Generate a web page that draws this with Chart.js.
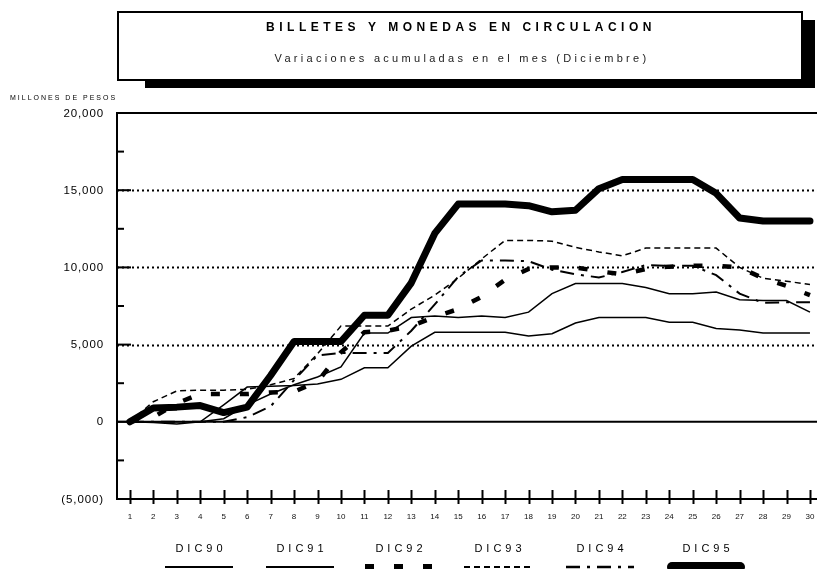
<!DOCTYPE html>
<html>
<head>
<meta charset="utf-8">
<script src="https://cdn.jsdelivr.net/npm/chart.js@4.4.0/dist/chart.umd.min.js"></script>
<style>
  html, body { margin: 0; padding: 0; background: #fff; }
</style>
</head>
<body>
<canvas id="billetesChart" width="817" height="569"></canvas>
<script>
// dias del mes de diciembre
const days = [1, 2, 3, 4, 5, 6, 7, 8, 9, 10, 11, 12, 13, 14, 15, 16, 17, 18, 19, 20, 21, 22, 23, 24, 25, 26, 27, 28, 29, 30];

// variaciones acumuladas, millones de pesos
const dic90 = [0, -50, -150, 0, 1100, 2250, 2300, 2350, 2450, 2750, 3500, 3500, 4900, 5800, 5800, 5800, 5800, 5550, 5700, 6400, 6750, 6750, 6750, 6450, 6450, 6050, 5950, 5750, 5750, 5750];
const dic91 = [0, 0, 0, 0, 200, 1100, 1800, 2400, 2900, 3550, 5750, 5750, 6750, 6850, 6750, 6850, 6750, 7100, 8300, 8950, 8950, 8950, 8700, 8300, 8300, 8400, 7900, 7850, 7850, 7100];
const dic92 = [0, 300, 1200, 1800, 1800, 1800, 1900, 1950, 2600, 4500, 5800, 5900, 6200, 6800, 7300, 8100, 9200, 9900, 10000, 10000, 9750, 9550, 9900, 10050, 10100, 10100, 10000, 9300, 8800, 8200];
const dic93 = [0, 1300, 2000, 2050, 2050, 2100, 2400, 2800, 4400, 6200, 6200, 6200, 7300, 8200, 9300, 10550, 11750, 11750, 11700, 11300, 11000, 10750, 11250, 11250, 11250, 11250, 10000, 9300, 9100, 8900];
const dic94 = [0, 0, 0, 0, 0, 300, 1000, 2700, 4300, 4450, 4450, 4450, 5900, 7600, 9400, 10450, 10450, 10400, 9850, 9550, 9350, 9700, 10150, 10100, 10100, 9500, 8300, 7700, 7750, 7750];
const dic95 = [0, 900, 950, 1050, 600, 950, 3000, 5200, 5200, 5200, 6900, 6900, 9000, 12200, 14100, 14100, 14100, 14000, 13600, 13700, 15100, 15700, 15700, 15700, 15700, 14800, 13200, 13000, 13000, 13000];

const seriesNames = ['DIC90', 'DIC91', 'DIC92', 'DIC93', 'DIC94', 'DIC95'];
const yLabelValues = [-5000, 0, 5000, 10000, 15000, 20000];
const yGridValues = [5000, 10000, 15000];

const FONT = '"Liberation Sans", Arial, sans-serif';

function fmtPesos(v) {
    const s = Math.abs(v).toLocaleString('en-US');
    return v < 0 ? '(' + s + ')' : s;
}

function toPoints(values) {
    return days.map((d, i) => ({ x: d, y: values[i] }));
}

// marco, rejilla, titulo y leyenda
const decorPlugin = {
    id: 'decor',
    beforeDatasetsDraw(chart) {
        const { ctx, chartArea: a, scales: { x, y } } = chart;
        ctx.save();
        ctx.strokeStyle = '#000';

        // lineas punteadas
        ctx.lineWidth = 2;
        ctx.setLineDash([2, 3]);
        yGridValues.forEach(v => {
            const py = Math.round(y.getPixelForValue(v)) + 0.5;
            ctx.beginPath();
            ctx.moveTo(a.left, py);
            ctx.lineTo(a.right, py);
            ctx.stroke();
        });
        ctx.setLineDash([]);

        // linea del cero
        const y0 = y.getPixelForValue(0);
        ctx.lineWidth = 2;
        ctx.beginPath();
        ctx.moveTo(a.left, y0);
        ctx.lineTo(a.right, y0);
        ctx.stroke();

        // marco izquierdo, superior e inferior
        ctx.beginPath();
        ctx.moveTo(a.right, a.top);
        ctx.lineTo(a.left, a.top);
        ctx.lineTo(a.left, a.bottom);
        ctx.lineTo(a.right, a.bottom);
        ctx.stroke();

        // marcas del eje y (hacia dentro)
        for (let v = y.min + 2500; v < y.max; v += 2500) {
            const py = y.getPixelForValue(v);
            const len = v % 5000 === 0 ? 14 : 7;
            ctx.beginPath();
            ctx.moveTo(a.left, py);
            ctx.lineTo(a.left + len, py);
            ctx.stroke();
        }

        // marcas del eje x
        days.forEach(d => {
            const px = Math.round(x.getPixelForValue(d)) + 0.5;
            ctx.beginPath();
            ctx.moveTo(px, a.bottom - 9);
            ctx.lineTo(px, a.bottom + 5);
            ctx.stroke();
        });

        // etiquetas del eje x
        ctx.fillStyle = '#111';
        ctx.font = '8px ' + FONT;
        ctx.textAlign = 'center';
        ctx.textBaseline = 'middle';
        days.forEach(d => {
            ctx.fillText(String(d), x.getPixelForValue(d), a.bottom + 18);
        });

        // etiquetas del eje y
        ctx.fillStyle = '#000';
        ctx.font = '11.5px ' + FONT;
        ctx.letterSpacing = '0.9px';
        ctx.textAlign = 'right';
        yLabelValues.forEach(v => {
            ctx.fillText(fmtPesos(v), a.left - 13, y.getPixelForValue(v) + 0.5);
        });
        ctx.restore();
    },
    afterDraw(chart) {
        const { ctx } = chart;
        ctx.save();

        // recuadro del titulo con sombra
        ctx.fillStyle = '#000';
        ctx.fillRect(145, 79, 670, 9);
        ctx.fillRect(802, 20, 13, 68);
        ctx.fillStyle = '#fff';
        ctx.fillRect(118, 12, 684, 68);
        ctx.strokeStyle = '#000';
        ctx.lineWidth = 2;
        ctx.strokeRect(118, 12, 684, 68);

        ctx.fillStyle = '#000';
        ctx.textAlign = 'center';
        ctx.textBaseline = 'middle';
        ctx.font = 'bold 12px ' + FONT;
        ctx.letterSpacing = '4.5px';
        ctx.fillText('BILLETES Y MONEDAS EN CIRCULACION', 461, 28);
        ctx.font = '11px ' + FONT;
        ctx.letterSpacing = '3.3px';
        ctx.fillStyle = '#222';
        ctx.fillText('Variaciones acumuladas en el mes (Diciembre)', 462, 59);

        ctx.fillStyle = '#000';
        ctx.font = '7px ' + FONT;
        ctx.letterSpacing = '2px';
        ctx.textAlign = 'left';
        ctx.fillText('MILLONES DE PESOS', 10, 98);

        // leyenda
        const centers = [199, 300, 399, 498, 600, 706];
        chart.data.datasets.forEach((ds, i) => {
            const cx = centers[i];
            ctx.textAlign = 'center';
            ctx.font = '11px ' + FONT;
            ctx.letterSpacing = '4px';
            ctx.fillStyle = '#000';
            ctx.fillText(ds.label, cx + 2, 549);

            ctx.strokeStyle = '#000';
            ctx.lineWidth = i === 5 ? 10 : (i === 2 ? 6 : ds.borderWidth + 0.5);
            ctx.lineCap = i === 5 ? 'round' : 'butt';
            ctx.setLineDash(ds.borderDash || []);
            ctx.beginPath();
            ctx.moveTo(cx - 34, 567);
            ctx.lineTo(cx + 34, 567);
            ctx.stroke();
            ctx.setLineDash([]);
        });
        ctx.restore();
    }
};

const ctx = document.getElementById('billetesChart').getContext('2d');
const billetesChart = new Chart(ctx, {
    type: 'line',
    data: {
        datasets: [
            { label: seriesNames[0], data: toPoints(dic90), borderWidth: 1.5 },
            { label: seriesNames[1], data: toPoints(dic91), borderWidth: 1.5 },
            { label: seriesNames[2], data: toPoints(dic92), borderWidth: 4.5, borderDash: [9, 20] },
            { label: seriesNames[3], data: toPoints(dic93), borderWidth: 1.5, borderDash: [6, 4] },
            { label: seriesNames[4], data: toPoints(dic94), borderWidth: 2, borderDash: [14, 7, 3, 7] },
            { label: seriesNames[5], data: toPoints(dic95), borderWidth: 7, borderCapStyle: 'round', borderJoinStyle: 'round' }
        ].map(ds => Object.assign({
            borderColor: '#000',
            backgroundColor: '#000',
            pointRadius: 0,
            tension: 0,
            fill: false
        }, ds))
    },
    options: {
        responsive: false,
        animation: false,
        devicePixelRatio: 1,
        layout: {
            padding: { top: 113, right: 0, bottom: 0, left: 0 }
        },
        scales: {
            x: {
                type: 'linear',
                min: 0.45,
                max: 30.3,
                afterBuildTicks: s => { s.ticks = days.map(d => ({ value: d })); },
                afterFit: s => { s.height = 70; },
                ticks: { display: false },
                grid: { display: false, drawTicks: false },
                border: { display: false }
            },
            y: {
                min: -5000,
                max: 20000,
                afterFit: s => { s.width = 117; },
                ticks: { display: false, stepSize: 2500 },
                grid: { display: false, drawTicks: false },
                border: { display: false }
            }
        },
        plugins: {
            legend: { display: false },
            tooltip: { enabled: false }
        }
    },
    plugins: [decorPlugin]
});
</script>
</body>
</html>
